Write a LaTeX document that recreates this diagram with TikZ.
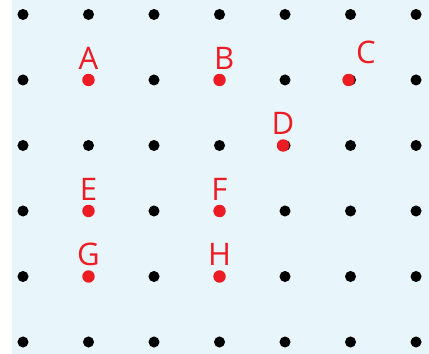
\documentclass[tikz,border=0pt]{standalone}
\usepackage{fontspec}
\setmainfont{Open Sans}
\usetikzlibrary{positioning}
\definecolor{gridbg}{RGB}{232,246,251}
\definecolor{ptred}{RGB}{237,28,36}

\begin{document}
\begin{tikzpicture}[every node/.style={font=\fontsize{13.5}{16}\selectfont},
  pt/.style={circle, fill=ptred, inner sep=0pt, minimum size=5.4pt},
  ptlabel/.style={text=ptred, inner sep=0pt}]
  \useasboundingbox (-0.351,-0.183) rectangle (6.198,5.221);
  \fill[gridbg] (-0.168,-0.183) rectangle (6.198,5.221);
  % dot grid
  \foreach \i in {0,...,6}
    \foreach \j in {0,...,5}
      \fill (\i,\j) circle (2.4pt);
  % marked points
  \node[pt] (A) at (1,4) {};
  \node[ptlabel, above=1.5pt of A] (lA) {A};
  \node[pt] (B) at (3,4) {};
  \node[ptlabel, above=1.5pt of B, xshift=2pt] (lB) {B};
  \node[pt] (C) at (4.97,4) {};
  \node[ptlabel, above right=4.6pt and 1pt of C] (lC) {C};
  \node[pt] (D) at (3.97,3) {};
  \node[ptlabel, above=1.5pt of D] (lD) {D};
  \node[pt] (E) at (1,2) {};
  \node[ptlabel, above=1.5pt of E] (lE) {E};
  \node[pt] (F) at (3,2) {};
  \node[ptlabel, above=1.5pt of F] (lF) {F};
  \node[pt] (G) at (1,1) {};
  \node[ptlabel, above=1.5pt of G] (lG) {G};
  \node[pt] (H) at (3,1) {};
  \node[ptlabel, above=1.5pt of H] (lH) {H};
\end{tikzpicture}
\end{document}
